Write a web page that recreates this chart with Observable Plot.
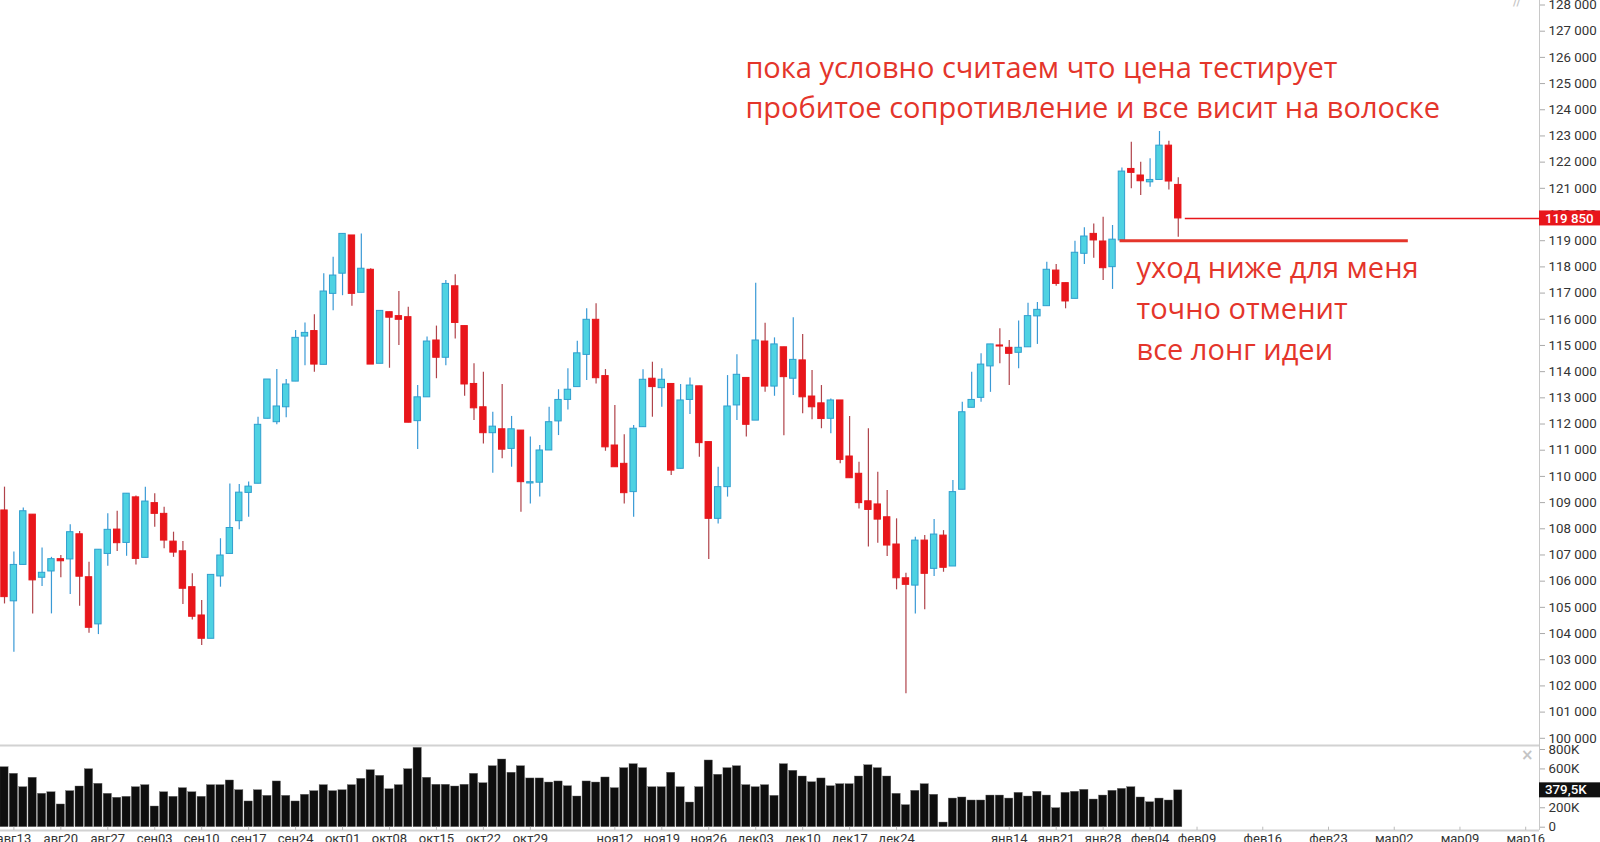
<!DOCTYPE html>
<html><head><meta charset="utf-8">
<script src="https://cdn.jsdelivr.net/npm/d3@7"></script>
<script src="https://cdn.jsdelivr.net/npm/@observablehq/plot@0.6"></script>
<style>
html,body{margin:0;padding:0;background:#fff;overflow:hidden}
#wrap{position:relative;width:1600px;height:842px;overflow:hidden;background:#fff}
#price{position:absolute;left:0;top:0}
#vol{position:absolute;left:0;top:745px}
.deco{position:absolute;color:#c4c4c4;font-family:"DejaVu Sans",sans-serif}
</style></head><body>
<div id="wrap"><div id="price"></div><div id="vol"></div>
<span class="deco" style="left:1513px;top:-7px;font-size:13px;letter-spacing:-1px;">//</span>
<span class="deco" style="left:1521px;top:746px;font-size:15px;font-weight:bold;">×</span>
</div>
<script>
// ---- data ----
const open = [108700,105230,106620,108540,106130,106370,106840,106830,107790,106150,
104350,107040,107970,107460,109200,106890,108980,108570,107510,107140,
105770,104690,103800,106180,107040,108290,109370,109720,112200,112070,
112640,113620,115340,115550,114260,116970,117740,119200,117010,117890,
114300,116270,116120,116080,112110,113020,115190,114530,117260,115740,
113530,112640,111650,111800,111050,111750,109730,109760,110990,112100,
112920,113410,114640,115980,113830,111180,110480,109400,111880,113730,
113370,113530,110290,112920,113440,111310,108380,109590,112710,113760,
112130,115150,113430,114930,113730,114430,113050,112790,112200,112900,
110760,110100,109050,108930,108440,107400,106110,105830,107550,106470,
107740,106560,109490,112620,113000,114200,115000,114910,114720,114930,
116110,116500,117860,117380,116780,118500,119260,118970,117990,119010,
121740,121490,121230,121320,122630,121130];
const high = [109590,107110,108790,108540,107270,106910,106980,108150,107900,106720,
107200,108570,108670,109340,109250,109590,109340,108820,107870,107510,
106280,105260,106240,107620,109710,109690,109790,112260,113700,114080,
113700,115570,115860,116170,117740,118370,119260,119200,119260,117930,
116320,116270,117060,116460,113470,115320,115740,117480,117700,115740,
114300,113980,112450,113510,112290,111750,111500,111180,112640,113310,
114110,115160,116400,116590,114080,112710,111590,111940,114070,114360,
114110,113530,113510,113760,113440,111310,110350,113850,114650,113760,
117380,115850,115290,114930,116060,115420,114040,113470,112960,112900,
112290,110540,111820,110160,109460,108380,106300,107680,107740,108350,
107930,109840,112830,113980,114680,115040,115640,115190,115930,116610,
116640,118180,118090,117380,118980,119490,119640,119900,119580,121780,
122760,122000,122130,123170,122800,121400];
const low = [105130,103290,106620,104750,105800,104750,106130,105490,105040,104010,
103960,106570,107130,106950,106620,106890,108060,107240,106910,105110,
104520,103540,103800,105770,107040,107960,108440,109720,112200,111970,
112240,113620,114230,113980,114260,116330,116900,116500,117010,114270,
114300,114130,115000,112050,111030,113020,113730,114230,115250,113060,
112130,111240,110120,110670,110350,108630,108950,109210,110990,111560,
112540,113410,113660,113530,110960,110350,108950,108440,111880,112260,
112640,110030,110290,112360,110730,106830,108180,109210,112130,111500,
112130,113210,113060,111550,113090,112390,112160,111820,111630,110480,
109930,108760,107300,107450,106940,105670,101700,104750,104910,106180,
106340,106560,109490,112620,112830,113210,114300,113470,114110,114930,
115040,116500,117260,116400,116780,118090,118330,117480,117140,119010,
120980,120730,121040,121320,120940,119130];
const close = [105390,106620,108670,106030,106320,106840,106760,107870,106170,104220,
107200,107960,107450,109340,106850,109040,108570,107550,107090,105710,
104640,103800,106240,106980,108030,109380,109610,111970,113700,112670,
113510,115290,115480,114270,117060,117670,119260,116970,117930,114270,
116320,116060,115980,112050,113020,115150,114530,117350,115860,113510,
112600,111650,111900,111020,111800,109780,109780,110990,112070,112920,
113310,114700,115980,113750,111110,110350,109360,111820,113690,113410,
113690,110220,112900,113470,111270,108380,109590,112670,113880,111970,
115190,113430,115040,113790,114450,113020,112640,112190,112900,110630,
109930,108980,108720,108350,107360,106110,105860,107550,106280,107780,
106510,109400,112450,112920,114270,115040,114960,114680,114910,116120,
116360,117890,117350,116680,118540,119160,119010,117950,119040,121640,
121590,121270,121320,122630,121260,119850];
const volumeK = [618,550,412,509,344,360,234,371,419,597,447,344,303,313,412,433,213,360,313,402,
360,313,433,433,481,381,265,381,323,471,323,265,334,371,433,371,381,433,498,587,529,391,433,
597,817,509,437,437,419,437,550,453,628,697,561,628,502,502,460,471,422,316,471,460,512,402,
608,649,608,412,412,561,412,254,412,687,540,608,628,433,412,433,323,649,581,
522,463,502,422,443,443,522,638,608,522,344,227,375,443,334,48,295,306,275,275,326,326,295,
354,316,365,326,196,354,365,385,285,326,375,395,412,306,257,295,275,379.5];
// x-axis tick labels and the trading-session index they sit on
const tickIdx = [1,6,11,16,21,26,31,36,41,46,51,56,65,70,75,80,85,90,95,107,112,117,122,127,134,141,148,155,162];
const tickLabels = ["авг13","авг20","авг27","сен03","сен10","сен17","сен24","окт01","окт08","окт15","окт22","окт29",
"ноя12","ноя19","ноя26","дек03","дек10","дек17","дек24","янв14","янв21","янв28","фев04","фев09","фев16","фев23","мар02","мар09","мар16"];
const priceTicks = d3.range(100000, 128001, 1000);
const volTicks = [0, 200000, 400000, 600000, 800000];
const lastPrice = 119850;
const lastVolume = 379500;
const lastVolumeLabel = "379,5K";
const supportLevel = 119000;
const noteTop = ["пока условно считаем что цена тестирует", "пробитое сопротивление и все висит на волоске"];
const noteBottom = ["уход ниже для меня", "точно отменит", "все лонг идеи"];

// ---- build ----
const candles = open.map((o, i) => ({i, o, h: high[i], l: low[i], c: close[i], v: volumeK[i] * 1000, up: close[i] > open[i]}));
const lastIdx = candles.length - 1;
const xDomain = [-0.426, 163.47];
const yDomain = [99725, 128172];
const vDomain = [-34000, 841200];

const RED = "#e8161b", RED_WICK = "#b0434a", CY = "#4ed2e2", CY_EDGE = "#2f9fce", CY_WICK = "#3a9ad6";
const NOTE = "#e4352b";
const fmtPrice = d3.formatLocale({thousands: "\u2009", grouping: [3], decimal: ","}).format(",");
const fmtP = d => fmtPrice(d).replace("\u2009", " ");

const topNotes = noteTop.map((t, k) => ({t, k}));
const botNotes = noteBottom.map((t, k) => ({t, k}));

const price = Plot.plot({
  width: 1600, height: 745,
  marginLeft: 0, marginRight: 61, marginTop: 0, marginBottom: 0,
  x: {domain: xDomain, axis: null},
  y: {domain: yDomain, axis: null},
  style: {fontFamily: "Roboto, sans-serif", fontSize: "13px", color: "#333", background: "transparent", overflow: "visible"},
  marks: [
    Plot.ruleY([yDomain[0]], {stroke: "#d2d2d2", strokeWidth: 2}),
    Plot.ruleX([xDomain[1]], {stroke: "#c8c8c8", strokeWidth: 1}),
    Plot.axisY({anchor: "right", label: null, ticks: priceTicks, tickFormat: fmtP, tickSize: 5, tickPadding: 4, stroke: "#aaa", fill: "#333", fontSize: 13.3}),
    Plot.ruleX(candles, {x: "i", y1: "l", y2: "h", stroke: d => d.up ? CY_WICK : RED_WICK, strokeWidth: 1.2}),
    Plot.rect(candles, {
      x1: d => d.i - 0.34, x2: d => d.i + 0.34,
      y1: d => Math.min(d.o, d.c), y2: d => Math.max(d.o, d.c),
      fill: d => d.up ? CY : RED, stroke: d => d.up ? CY_EDGE : RED, strokeWidth: 1
    }),
    Plot.ruleY([lastPrice], {x1: lastIdx + 0.75, x2: xDomain[1], stroke: RED, strokeWidth: 1.5}),
    Plot.ruleY([supportLevel], {x1: lastIdx - 6.2, x2: 149.5, stroke: NOTE, strokeWidth: 3}),
    Plot.text(topNotes, {x: 78.9, y: d => 125554 - d.k * 1510, text: "t", textAnchor: "start", fill: NOTE,
      fontSize: 29, fontFamily: "Open Sans, sans-serif"}),
    Plot.text(botNotes, {x: 120.55, y: d => 117937 - d.k * 1565, text: "t", textAnchor: "start", fill: NOTE,
      fontSize: 29, fontFamily: "Open Sans, sans-serif"})
  ]
});
document.getElementById("price").appendChild(price);
{
  const yp = price.scale("y").apply(lastPrice);
  const x0 = price.scale("x").apply(xDomain[1]);
  const svg = d3.select(price);
  svg.append("rect").attr("x", x0).attr("y", yp - 7.5).attr("width", 1600 - x0).attr("height", 15).attr("fill", RED);
  svg.append("text").attr("x", x0 + 6).attr("y", yp).attr("dy", "0.35em").attr("fill", "#fff").attr("text-anchor", "start")
    .attr("font-size", 13.3).attr("font-weight", 500).attr("font-family", "Roboto, sans-serif").text(fmtP(lastPrice));
}

const vol = Plot.plot({
  width: 1600, height: 97,
  marginLeft: 0, marginRight: 61, marginTop: 0, marginBottom: 12,
  x: {domain: xDomain},
  y: {domain: vDomain, axis: null},
  style: {fontFamily: "Roboto, sans-serif", fontSize: "13px", color: "#333", background: "transparent", overflow: "visible"},
  marks: [
    Plot.rect(candles, {x1: d => d.i - 0.44, x2: d => d.i + 0.44, y1: 0, y2: "v", fill: "#0e0e0e", stroke: "#6a6a6a", strokeWidth: 0.4}),
    Plot.ruleY([vDomain[0]], {stroke: "#d2d2d2", strokeWidth: 2}),
    Plot.ruleX([xDomain[1]], {stroke: "#c8c8c8", strokeWidth: 1}),
    Plot.ruleX(tickIdx, {y1: vDomain[0], y2: 0, stroke: "#bbb"}),
    Plot.axisY({anchor: "right", label: null, ticks: volTicks, tickFormat: d => d === 0 ? "0" : d / 1000 + "K", tickSize: 5, tickPadding: 4, stroke: "#aaa", fill: "#333", fontSize: 13.3}),
    Plot.axisX({anchor: "bottom", label: null, ticks: tickIdx, tickFormat: d => tickLabels[tickIdx.indexOf(d)], tickSize: 0, tickPadding: 3, fill: "#333", fontSize: 13})
  ]
});
document.getElementById("vol").appendChild(vol);
{
  const yv = vol.scale("y").apply(lastVolume);
  const x0 = vol.scale("x").apply(xDomain[1]);
  const svg = d3.select(vol);
  svg.append("rect").attr("x", x0).attr("y", yv - 7.5).attr("width", 1600 - x0).attr("height", 15).attr("fill", "#111");
  svg.append("text").attr("x", x0 + 6).attr("y", yv).attr("dy", "0.35em").attr("fill", "#fff").attr("text-anchor", "start")
    .attr("font-size", 13.3).attr("font-weight", 500).attr("font-family", "Roboto, sans-serif").text(lastVolumeLabel);
}
</script>
</body></html>
